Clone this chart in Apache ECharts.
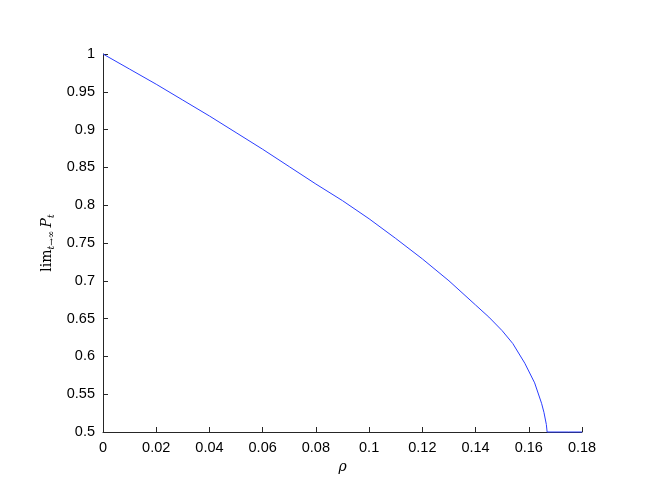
<!DOCTYPE html>
<html><head><meta charset="utf-8">
<script src="https://cdn.jsdelivr.net/npm/echarts@6/dist/echarts.min.js"></script>
<style>html,body{margin:0;padding:0;background:#fff}#c{width:664px;height:498px}</style>
</head><body><div id="c"></div>
<script>
const rho = [0, 0.01, 0.02, 0.03, 0.04, 0.05, 0.06, 0.07, 0.08, 0.09, 0.10, 0.11, 0.12, 0.13, 0.14, 0.145, 0.15, 0.154, 0.1585, 0.1622, 0.1648, 0.1657, 0.1666, 0.1669, 0.175, 0.18];
const limP = [1.0, 0.980, 0.960, 0.939, 0.918, 0.896, 0.874, 0.851, 0.828, 0.806, 0.782, 0.756, 0.729, 0.700, 0.668, 0.652, 0.634, 0.617, 0.591, 0.565, 0.538, 0.526, 0.510, 0.5, 0.5, 0.5];
const xTicks = {min: 0, max: 0.18, interval: 0.02};
const yTicks = {min: 0.5, max: 1, interval: 0.05};

const chart = echarts.init(document.getElementById('c'));
const axisCommon = {
  axisLine: {show: true, lineStyle: {color: '#262626', width: 1}},
  axisTick: {show: true, inside: true, length: 5, lineStyle: {color: '#262626'}},
  splitLine: {show: false},
  axisLabel: {color: '#000', fontFamily: 'Liberation Sans', fontSize: 14.5}
};
chart.setOption({
  animation: false,
  grid: {left: 103, right: 82, top: 54, bottom: 66},
  xAxis: Object.assign({}, axisCommon, {
    type: 'value', min: xTicks.min, max: xTicks.max, interval: xTicks.interval,
    axisLabel: Object.assign({}, axisCommon.axisLabel, {margin: 8}),
    name: 'ρ', nameLocation: 'middle', nameGap: 27,
    nameTextStyle: {fontFamily: 'DejaVu Serif', fontStyle: 'italic', fontSize: 14, color: '#000'}
  }),
  yAxis: Object.assign({}, axisCommon, {
    type: 'value', min: yTicks.min, max: yTicks.max, interval: yTicks.interval,
    axisLabel: Object.assign({}, axisCommon.axisLabel, {margin: 8}),
    name: '{m|lim}{s|t→∞} {p|P}{s|t}', nameLocation: 'middle', nameGap: 42, nameRotate: 90,
    nameTextStyle: {
      color: '#000',
      rich: {
        m: {fontFamily: 'DejaVu Serif', fontSize: 14, color: '#000'},
        p: {fontFamily: 'DejaVu Serif', fontStyle: 'italic', fontSize: 14, color: '#000'},
        s: {fontFamily: 'DejaVu Serif', fontStyle: 'italic', fontSize: 9, color: '#000', padding: [8, 0, 0, 0]}
      }
    }
  }),
  series: [{
    type: 'line', showSymbol: false, smooth: false,
    data: rho.map((r, i) => [r, limP[i]]),
    lineStyle: {color: '#2a3dff', width: 1},
    clip: false
  }]
});
</script></body></html>
